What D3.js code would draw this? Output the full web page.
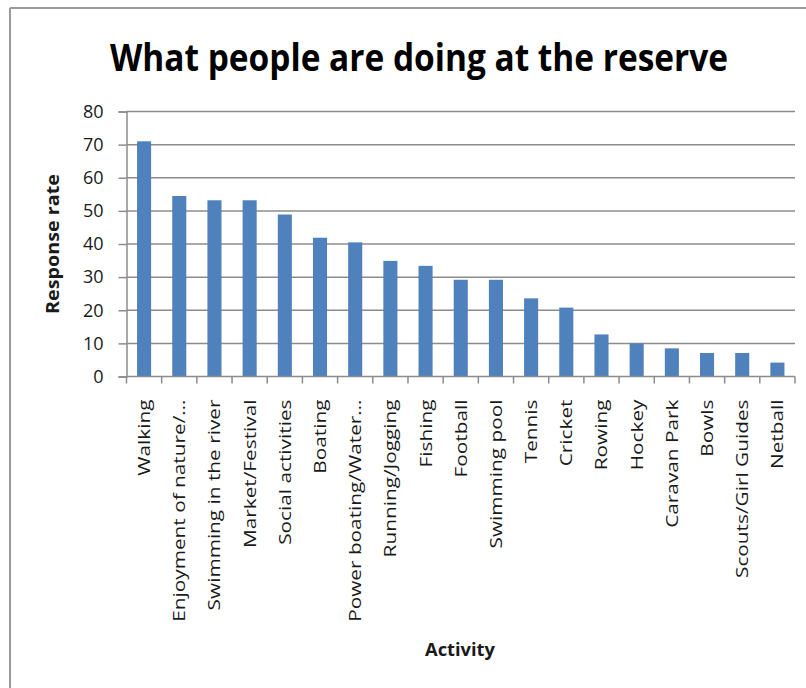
<!DOCTYPE html>
<html>
<head>
<meta charset="utf-8">
<script src="https://cdn.jsdelivr.net/npm/d3@7"></script>
<style>
  body { margin: 0; background: #fff; }
  svg { display: block; }
</style>
</head>
<body>
<svg id="chart"></svg>
<script>
let activities = ["Walking", "Enjoyment of nature/…", "Swimming in the river", "Market/Festival",
    "Social activities", "Boating", "Power boating/Water…", "Running/Jogging", "Fishing",
    "Football", "Swimming pool", "Tennis", "Cricket", "Rowing", "Hockey", "Caravan Park",
    "Bowls", "Scouts/Girl Guides", "Netball"
]
let responses = [71, 54.5, 53.2, 53.2, 48.9, 41.9, 40.5, 34.9, 33.4, 29.2, 29.2, 23.6, 20.8, 12.7, 10, 8.5, 7.1, 7.1, 4.2]
let yTicks = [0, 10, 20, 30, 40, 50, 60, 70, 80]

let width = 806
let height = 688
let margin = { top: 111.5, right: 11, bottom: 311.5, left: 126.5 }
let barColor = '#4f81bd'
let gridColor = '#8c8c8c'
let textColor = '#1a1a1a'
let font = '"Open Sans", sans-serif'
let labelStretch = 1.3 // labels in the picture look stretched along their length

let svg = d3.select('#chart')
    .attr('width', width)
    .attr('height', height)

// frame (only top and left edges visible)
svg.append('line')
    .attr('x1', 10).attr('x2', width)
    .attr('y1', 8).attr('y2', 8)
    .attr('stroke', '#9a9a9a').attr('stroke-width', 2)
svg.append('line')
    .attr('x1', 10).attr('x2', 10)
    .attr('y1', 8).attr('y2', height)
    .attr('stroke', '#9a9a9a').attr('stroke-width', 2)

let x = d3.scaleBand()
    .domain(activities)
    .range([margin.left, width - margin.right])
    .paddingInner(0.6)
    .paddingOuter(0.3)

let y = d3.scaleLinear()
    .domain([0, 80])
    .range([height - margin.bottom, margin.top])

// gridlines
svg.append('g')
    .selectAll('line')
    .data(yTicks.filter(d => d > 0))
    .join('line')
    .attr('x1', margin.left)
    .attr('x2', width - margin.right)
    .attr('y1', d => y(d))
    .attr('y2', d => y(d))
    .attr('stroke', gridColor)
    .attr('stroke-width', 1.5)

// bars
svg.append('g')
    .selectAll('rect')
    .data(responses)
    .join('rect')
    .attr('x', (d, i) => x(activities[i]))
    .attr('y', d => y(d))
    .attr('width', x.bandwidth())
    .attr('height', d => y(0) - y(d))
    .attr('fill', barColor)

// y axis
let yAxis = svg.append('g')
    .attr('transform', `translate(${margin.left},0)`)
    .call(d3.axisLeft(y).tickValues(yTicks).tickSize(8).tickPadding(15))
yAxis.select('.domain').attr('stroke', gridColor).attr('stroke-width', 1.5)
yAxis.selectAll('.tick line').attr('stroke', gridColor).attr('stroke-width', 1.5)
yAxis.selectAll('.tick text')
    .attr('fill', textColor)
    .style('font-family', font)
    .style('font-size', '18px')

// x axis: ticks sit on the category boundaries
let step = x.step()
let boundaries = d3.range(activities.length + 1).map(i => margin.left + i * step)
let xAxis = svg.append('g')
xAxis.append('line')
    .attr('x1', margin.left).attr('x2', width - margin.right)
    .attr('y1', y(0)).attr('y2', y(0))
    .attr('stroke', gridColor).attr('stroke-width', 1.5)
xAxis.selectAll('.xtick')
    .data(boundaries)
    .join('line')
    .attr('class', 'xtick')
    .attr('x1', d => d).attr('x2', d => d)
    .attr('y1', y(0)).attr('y2', y(0) + 7)
    .attr('stroke', gridColor).attr('stroke-width', 1.5)

xAxis.selectAll('.xlabel')
    .data(activities)
    .join('text')
    .attr('class', 'xlabel')
    .attr('transform', d => `translate(${x(d) + x.bandwidth() / 2 + 6},${y(0) + 23}) rotate(-90) scale(${labelStretch},1)`)
    .attr('text-anchor', 'end')
    .attr('fill', textColor)
    .style('font-family', font)
    .style('font-size', '16px')
    .text(d => d)

// titles
svg.append('text')
    .attr('transform', 'translate(419,71) scale(1,1.15)')
    .attr('text-anchor', 'middle')
    .attr('textLength', 618)
    .attr('lengthAdjust', 'spacingAndGlyphs')
    .style('font-family', font)
    .style('font-weight', 'bold')
    .style('font-size', '33px')
    .text('What people are doing at the reserve')

svg.append('text')
    .attr('transform', `translate(59,${(y(0) + y(80)) / 2}) rotate(-90)`)
    .attr('text-anchor', 'middle')
    .attr('textLength', 140)
    .attr('lengthAdjust', 'spacingAndGlyphs')
    .attr('fill', textColor)
    .style('font-family', font)
    .style('font-weight', 'bold')
    .style('font-size', '17px')
    .text('Response rate')

svg.append('text')
    .attr('x', 460)
    .attr('y', 656)
    .attr('text-anchor', 'middle')
    .attr('textLength', 70)
    .attr('lengthAdjust', 'spacingAndGlyphs')
    .attr('fill', textColor)
    .style('font-family', font)
    .style('font-weight', 'bold')
    .style('font-size', '17px')
    .text('Activity')
</script>
</body>
</html>
